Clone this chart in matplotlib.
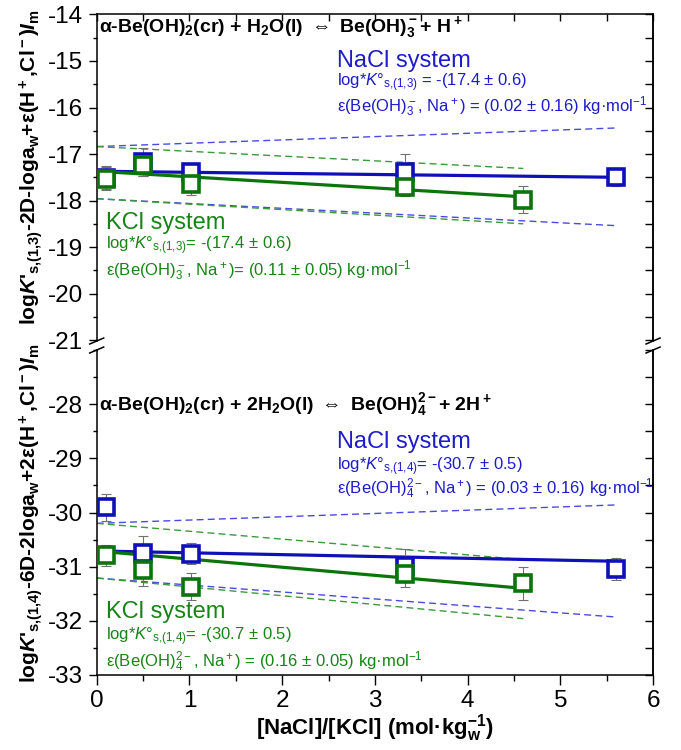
import matplotlib
matplotlib.use("Agg")
import matplotlib.pyplot as plt
from matplotlib.ticker import MultipleLocator
from matplotlib.lines import Line2D

# ---- data ----
x_nacl = [0.1, 0.5, 1.02, 3.33, 5.6]
x_kcl = [0.1, 0.5, 1.02, 3.33, 4.6]

# top panel: Be(OH)3-
top_nacl = [-17.51, -17.17, -17.39, -17.39, -17.50]
top_nacl_err = [0.25, 0.30, 0.18, 0.40, 0.18]
top_kcl = [-17.53, -17.23, -17.64, -17.71, -17.98]
top_kcl_err = [0.25, 0.25, 0.25, 0.20, 0.29]

# bottom panel: Be(OH)4 2-
bot_nacl = [-29.90, -30.74, -30.76, -30.98, -31.04]
bot_nacl_err = [0.25, 0.30, 0.19, 0.30, 0.20]
bot_kcl = [-30.79, -31.06, -31.37, -31.13, -31.31]
bot_kcl_err = [0.19, 0.29, 0.25, 0.25, 0.30]

# SIT fits and their uncertainty limits (values at the line ends)
fit_x_nacl = [0, 5.6]
fit_x_kcl = [0, 4.6]
top_nacl_fit = [-17.37, -17.50]
top_nacl_hi = [-16.84, -16.44]
top_nacl_lo = [-17.96, -18.54]
top_kcl_fit = [-17.37, -17.92]
top_kcl_hi = [-16.84, -17.31]
top_kcl_lo = [-17.96, -18.50]
bot_nacl_fit = [-30.71, -30.90]
bot_nacl_hi = [-30.20, -29.86]
bot_nacl_lo = [-31.21, -31.93]
bot_kcl_fit = [-30.71, -31.40]
bot_kcl_hi = [-30.20, -30.87]
bot_kcl_lo = [-31.21, -31.96]

top_yticks = [-21, -20, -19, -18, -17, -16, -15, -14]
bot_yticks = [-33, -32, -31, -30, -29, -28]
xticks = [0, 1, 2, 3, 4, 5, 6]

plt.rcParams['font.family'] = ['Liberation Sans', 'DejaVu Sans']
plt.rcParams['mathtext.fontset'] = 'custom'
plt.rcParams['mathtext.rm'] = 'Liberation Sans'
plt.rcParams['mathtext.it'] = 'Liberation Sans:italic'
plt.rcParams['mathtext.bf'] = 'Liberation Sans:bold'
plt.rcParams['mathtext.bfit'] = 'Liberation Sans:bold:italic'
plt.rcParams['mathtext.default'] = 'regular'
plt.rcParams['mathtext.fallback'] = 'stixsans'
plt.rcParams['axes.unicode_minus'] = False

blue = '#1010b8'
green = '#0b750b'
blue_txt = '#1c1cc8'
green_txt = '#178417'
blue_dash = '#4a4ae0'
green_dash = '#3a9a3a'

fig = plt.figure(figsize=(6.81, 7.5), dpi=100)
L, W = 0.142, 0.817
ax1 = fig.add_axes([L, 0.5453, W, 0.4354])
ax2 = fig.add_axes([L, 0.1000, W, 0.4333])


def draw(ax, nacl, nacl_err, kcl, kcl_err, nfit, nhi, nlo, kfit, khi, klo):
    ax.plot(fit_x_nacl, nhi, '--', color=blue_dash, lw=1.0, dashes=(5, 3))
    ax.plot(fit_x_nacl, nlo, '--', color=blue_dash, lw=1.0, dashes=(5, 3))
    ax.plot(fit_x_kcl, khi, '--', color=green_dash, lw=1.0, dashes=(5, 3))
    ax.plot(fit_x_kcl, klo, '--', color=green_dash, lw=1.0, dashes=(5, 3))
    ax.plot(fit_x_nacl, nfit, color=blue, lw=2.3)
    ax.plot(fit_x_kcl, kfit, color=green, lw=2.3)
    ax.errorbar(x_nacl, nacl, yerr=nacl_err, fmt='none', ecolor='#707070',
                elinewidth=0.8, capsize=3.5, capthick=0.8, zorder=3)
    ax.errorbar(x_kcl, kcl, yerr=kcl_err, fmt='none', ecolor='#707070',
                elinewidth=0.8, capsize=3.5, capthick=0.8, zorder=3)
    ax.plot(x_nacl, nacl, 's', ms=11, mfc='white', mec=blue, mew=2.6, zorder=4)
    ax.plot(x_kcl, kcl, 's', ms=11, mfc='white', mec=green, mew=2.6, zorder=5)

    ax.set_xlim(0, 6)
    ax.yaxis.set_minor_locator(MultipleLocator(0.5))
    ax.tick_params(axis='y', which='major', direction='out', length=6,
                   width=1, labelsize=17.5, pad=4)
    ax.tick_params(axis='y', which='minor', direction='out', length=3, width=1)
    ax.tick_params(axis='y', right=False)
    sec = ax.secondary_yaxis('right')
    sec.yaxis.set_major_locator(MultipleLocator(0.5))
    sec.tick_params(direction='in', length=6, width=1, labelright=False)
    for s in ax.spines.values():
        s.set_linewidth(1.1)
    sec.spines['right'].set_linewidth(1.1)


draw(ax1, top_nacl, top_nacl_err, top_kcl, top_kcl_err,
     top_nacl_fit, top_nacl_hi, top_nacl_lo, top_kcl_fit, top_kcl_hi, top_kcl_lo)
draw(ax2, bot_nacl, bot_nacl_err, bot_kcl, bot_kcl_err,
     bot_nacl_fit, bot_nacl_hi, bot_nacl_lo, bot_kcl_fit, bot_kcl_hi, bot_kcl_lo)

ax1.set_ylim(-21.02, -14)
ax1.set_yticks(top_yticks)
ax1.spines['bottom'].set_visible(False)
ax1.set_xticks(xticks)
ax1.xaxis.set_minor_locator(MultipleLocator(0.5))
ax1.tick_params(axis='x', which='both', bottom=False, top=True, direction='in',
                labelbottom=False, length=5, width=1)

ax2.set_ylim(-33, -27.0)
ax2.set_yticks(bot_yticks)
ax2.spines['top'].set_visible(False)
ax2.set_xticks(xticks)
ax2.xaxis.set_minor_locator(MultipleLocator(0.5))
ax2.tick_params(axis='x', which='major', direction='out', length=7, width=1,
                labelsize=17.5, pad=4)
ax2.tick_params(axis='x', which='minor', direction='out', length=4, width=1)
ax2.set_xlabel(r"[NaCl]/[KCl] (mol·kg$_w^{-1}$)", fontsize=16, fontweight='bold',
               labelpad=0)

# axis break marks
p1 = ax1.get_position()
p2 = ax2.get_position()
dx, dy = 7 / 681, 3 / 750
for xs in (p1.x0, p1.x1):
    for ys in (p1.y0, p2.y1):
        fig.add_artist(Line2D([xs - dx, xs + dx], [ys - dy, ys + dy],
                              transform=fig.transFigure, color='black', lw=1.1))

# y labels
fig.text(0.046, 0.777,
         r"log$\mathbfit{K}$'$_{s{,}(1{,}3)}$-2D-loga$_w$+ε(H$^+$,Cl$^-$)$\mathbfit{I}_m$",
         rotation=90, fontsize=15, fontweight='bold', ha='center', va='center')
fig.text(0.046, 0.315,
         r"log$\mathbfit{K}$'$_{s{,}(1{,}4)}$-6D-2loga$_w$+2ε(H$^+$,Cl$^-$)$\mathbfit{I}_m$",
         rotation=90, fontsize=15, fontweight='bold', ha='center', va='center')

# top panel annotations
ax1.text(0.03, -14.28,
         r"α-Be(OH)$_2$(cr) + H$_2$O(l) $\Leftrightarrow$ Be(OH)$_3^-$+ H$^+$",
         fontsize=14, fontweight='bold', va='center')
ax1.text(2.59, -15.0, "NaCl system", fontsize=17, color=blue_txt, va='center')
ax1.text(2.59, -15.47, r"log*$\mathit{K}$°$_{s{,}(1{,}3)}$ = -(17.4 ± 0.6)",
         fontsize=12, color=blue_txt, va='center')
ax1.text(2.59, -15.98, r"ε(Be(OH)$_3^-$, Na$^+$) = (0.02 ± 0.16) kg·mol$^{-1}$",
         fontsize=12, color=blue_txt, va='center')
ax1.text(0.1, -18.48, "KCl system", fontsize=17, color=green_txt, va='center')
ax1.text(0.1, -18.98, r"log*$\mathit{K}$°$_{s{,}(1{,}3)}$= -(17.4 ± 0.6)",
         fontsize=12, color=green_txt, va='center')
ax1.text(0.1, -19.52, r"ε(Be(OH)$_3^-$, Na$^+$)= (0.11 ± 0.05) kg·mol$^{-1}$",
         fontsize=12, color=green_txt, va='center')

# bottom panel annotations
ax2.text(0.03, -28.0,
         r"α-Be(OH)$_2$(cr) + 2H$_2$O(l) $\Leftrightarrow$ Be(OH)$_4^{2-}$+ 2H$^+$",
         fontsize=14, fontweight='bold', va='center')
ax2.text(2.59, -28.69, "NaCl system", fontsize=17, color=blue_txt, va='center')
ax2.text(2.59, -29.15, r"log*$\mathit{K}$°$_{s{,}(1{,}4)}$= -(30.7 ± 0.5)",
         fontsize=12, color=blue_txt, va='center')
ax2.text(2.59, -29.56, r"ε(Be(OH)$_4^{2-}$, Na$^+$) = (0.03 ± 0.16) kg·mol$^{-1}$",
         fontsize=12, color=blue_txt, va='center')
ax2.text(0.1, -31.83, "KCl system", fontsize=17, color=green_txt, va='center')
ax2.text(0.1, -32.30, r"log*$\mathit{K}$°$_{s{,}(1{,}4)}$= -(30.7 ± 0.5)",
         fontsize=12, color=green_txt, va='center')
ax2.text(0.1, -32.75, r"ε(Be(OH)$_4^{2-}$, Na$^+$) = (0.16 ± 0.05) kg·mol$^{-1}$",
         fontsize=12, color=green_txt, va='center')

fig.savefig("out.png", dpi=100)
